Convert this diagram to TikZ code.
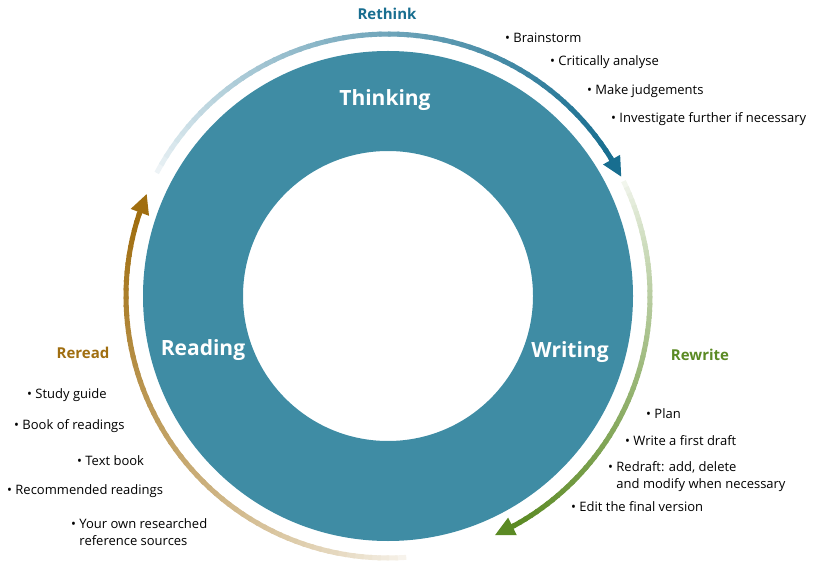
\documentclass[tikz,border=0pt]{standalone}
\usepackage{fontspec}
\setmainfont{Open Sans}
\usetikzlibrary{arrows.meta,calc}
\definecolor{ring}{HTML}{3F8CA4}
\definecolor{cthink}{HTML}{186E90}
\definecolor{cwrite}{HTML}{5B8A24}
\definecolor{cread}{HTML}{A06E10}
\tikzset{
  big/.style={font=\bfseries\fontsize{21}{24}\selectfont, text=white},
  head/.style={font=\bfseries\fontsize{15}{18}\selectfont},
  item/.style={font=\fontsize{13}{17}\selectfont, anchor=west, inner sep=0pt, align=left},
  arrowline/.style={line width=5pt, -{Triangle[length=20pt,width=18pt]}},
}
\newcommand{\gradarc}[3]{% start, end, color
  \foreach \i in {0,...,59}{
    \pgfmathsetmacro{\aa}{#1+(#2-#1)*\i/60}
    \pgfmathsetmacro{\ab}{#1+(#2-#1)*(\i+1.3)/60}
    \pgfmathsetmacro{\pp}{8+92*(\i/59)^0.8}
    \draw[line width=5pt, color=#3!\pp!white] (O) ++(\aa:262) arc (\aa:\ab:262);
  }
}
\begin{document}
\begin{tikzpicture}[x=1pt,y=1pt]
\useasboundingbox (0,0) rectangle (838,563);
\coordinate (O) at (388,267);
\fill[ring, even odd rule] (O) circle (245) (O) circle (145);
\node[big] (thinking) at (385,463) {Thinking};
\node[big] (reading) at (203,213) {Reading};
\node[big] (writing) at (570,211) {Writing};
\gradarc{152}{32}{cthink}
\coordinate (rt1) at ($(O)+(32:262)$);
\coordinate (rt2) at ($(O)+(27:262)$);
\draw[cthink, arrowline] (rt1) -- (rt2);
\gradarc{26}{-61}{cwrite}
\coordinate (rw1) at ($(O)+(-61:262)$);
\coordinate (rw2) at ($(O)+(-66:262)$);
\draw[cwrite, arrowline] (rw1) -- (rw2);
\gradarc{-86}{-198}{cread}
\coordinate (rr1) at ($(O)+(-198:262)$);
\coordinate (rr2) at ($(O)+(-203:262)$);
\draw[cread, arrowline] (rr1) -- (rr2);
\node[head, text=cthink] (rethink) at (387,549) {Rethink};
\node[head, text=cwrite] (rewrite) at (700,208) {Rewrite};
\node[head, text=cread] (reread) at (83,210) {Reread};
\node[item] (b1) at (505,525) {• Brainstorm};
\node[item] (b2) at (550,501) {• Critically analyse};
\node[item] (b3) at (587,472) {• Make judgements};
\node[item] (b4) at (611,444) {• Investigate further if necessary};
\node[item] (w1) at (646,149) {• Plan};
\node[item] (w2) at (625,122) {• Write a first draft};
\node[item] (w3) at (608,86) {• Redraft: add, delete\\\phantom{•} and modify when necessary};
\node[item] (w4) at (571,56) {• Edit the final version};
\node[item] (r1) at (27,168) {• Study guide};
\node[item] (r2) at (14,137) {• Book of readings};
\node[item] (r3) at (77,102) {• Text book};
\node[item] (r4) at (7,72) {• Recommended readings};
\node[item] (r5) at (71,31) {• Your own researched\\\phantom{•} reference sources};
\end{tikzpicture}
\end{document}
